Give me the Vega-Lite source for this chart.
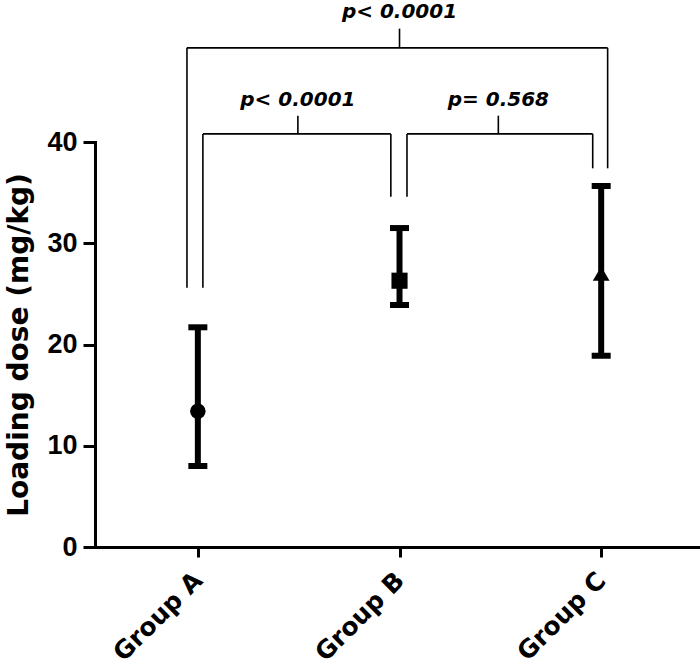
{
  "$schema": "https://vega.github.io/schema/vega-lite/v6.json",
  "autosize": {"type": "none"},
  "padding": {"left": 95, "top": 142, "right": 0, "bottom": 123},
  "width": 605,
  "height": 405,
  "background": "white",
  "config": {
    "view": {"stroke": null},
    "axis": {
      "domainColor": "black", "domainWidth": 3, "domainCap": "square",
      "tickColor": "black", "tickWidth": 3, "tickSize": 8,
      "labelColor": "black", "labelFont": "DejaVu Sans", "labelFontWeight": "bold",
      "titleColor": "black", "titleFont": "DejaVu Sans", "titleFontWeight": "bold",
      "grid": false
    }
  },
  "datasets": {
    "groups": [
      {"group": "Group A", "idx": 0, "mean": 13.4, "lo": 8.0, "hi": 21.7},
      {"group": "Group B", "idx": 1, "mean": 26.3, "lo": 23.9, "hi": 31.5},
      {"group": "Group C", "idx": 2, "mean": 27.0, "lo": 18.9, "hi": 35.65}
    ],
    "brackets": [
      {"x": -0.054, "x2": -0.054, "y": 25.6, "y2": 49.3},
      {"x": -0.054, "x2": 2.032, "y": 49.3, "y2": 49.3},
      {"x": 2.032, "x2": 2.032, "y": 37.4, "y2": 49.3},
      {"x": 1.0, "x2": 1.0, "y": 49.3, "y2": 51.2},
      {"x": 0.025, "x2": 0.025, "y": 25.6, "y2": 40.8},
      {"x": 0.025, "x2": 0.957, "y": 40.8, "y2": 40.8},
      {"x": 0.957, "x2": 0.957, "y": 34.6, "y2": 40.8},
      {"x": 0.496, "x2": 0.496, "y": 40.8, "y2": 42.6},
      {"x": 1.037, "x2": 1.037, "y": 34.6, "y2": 40.8},
      {"x": 1.037, "x2": 1.958, "y": 40.8, "y2": 40.8},
      {"x": 1.958, "x2": 1.958, "y": 37.4, "y2": 40.8},
      {"x": 1.49, "x2": 1.49, "y": 40.8, "y2": 42.6}
    ],
    "pvalues": [
      {"x": 1.0, "y": 52.25, "label": "p< 0.0001"},
      {"x": 0.496, "y": 43.55, "label": "p< 0.0001"},
      {"x": 1.49, "y": 43.55, "label": "p= 0.568"}
    ]
  },
  "layer": [
    {
      "data": {"name": "groups"},
      "mark": {"type": "rule", "color": "black", "strokeWidth": 6},
      "encoding": {
        "x": {
          "field": "idx", "type": "quantitative",
          "scale": {"domain": [-0.51, 2.49], "nice": false, "zero": false},
          "axis": {
            "values": [0, 1, 2],
            "labelExpr": "['Group A','Group B','Group C'][datum.value]",
            "labelAngle": -45, "labelAlign": "right", "labelBaseline": "middle",
            "labelFontSize": 25, "labelPadding": 19, "tickSize": 10, "title": null
          }
        },
        "y": {
          "field": "lo", "type": "quantitative",
          "scale": {"domain": [0, 40], "nice": false},
          "axis": {
            "values": [0, 10, 20, 30, 40],
            "labelFont": "Liberation Sans",
            "labelFontSize": 27, "labelPadding": 6, "tickSize": 12,
            "title": "Loading dose (mg/kg)", "titleFontSize": 28, "titlePadding": 13
          }
        },
        "y2": {"field": "hi"}
      }
    },
    {
      "data": {"name": "brackets"},
      "mark": {"type": "rule", "color": "black", "strokeWidth": 1.6},
      "encoding": {
        "x": {"field": "x", "type": "quantitative"},
        "x2": {"field": "x2"},
        "y": {"field": "y", "type": "quantitative"},
        "y2": {"field": "y2"}
      }
    },
    {
      "data": {"name": "pvalues"},
      "mark": {"type": "text", "font": "DejaVu Sans", "fontWeight": "bold", "fontStyle": "italic", "fontSize": 20, "color": "black", "align": "center", "baseline": "alphabetic"},
      "encoding": {
        "x": {"field": "x", "type": "quantitative"},
        "y": {"field": "y", "type": "quantitative"},
        "text": {"field": "label"}
      }
    },
    {
      "data": {"name": "groups"},
      "mark": {"type": "tick", "orient": "horizontal", "color": "black", "size": 19, "thickness": 6, "opacity": 1},
      "encoding": {
        "x": {"field": "idx", "type": "quantitative"},
        "y": {"field": "lo", "type": "quantitative"}
      }
    },
    {
      "data": {"name": "groups"},
      "mark": {"type": "tick", "orient": "horizontal", "color": "black", "size": 19, "thickness": 6, "opacity": 1},
      "encoding": {
        "x": {"field": "idx", "type": "quantitative"},
        "y": {"field": "hi", "type": "quantitative"}
      }
    },
    {
      "data": {"name": "groups"},
      "mark": {"type": "point", "filled": true, "color": "black", "opacity": 1},
      "encoding": {
        "x": {"field": "idx", "type": "quantitative"},
        "y": {"field": "mean", "type": "quantitative"},
        "shape": {
          "field": "group", "type": "nominal",
          "scale": {"domain": ["Group A", "Group B", "Group C"], "range": ["circle", "square", "triangle-up"]},
          "legend": null
        },
        "size": {
          "field": "group", "type": "nominal",
          "scale": {"domain": ["Group A", "Group B", "Group C"], "range": [240, 280, 220]},
          "legend": null
        }
      }
    }
  ]
}
